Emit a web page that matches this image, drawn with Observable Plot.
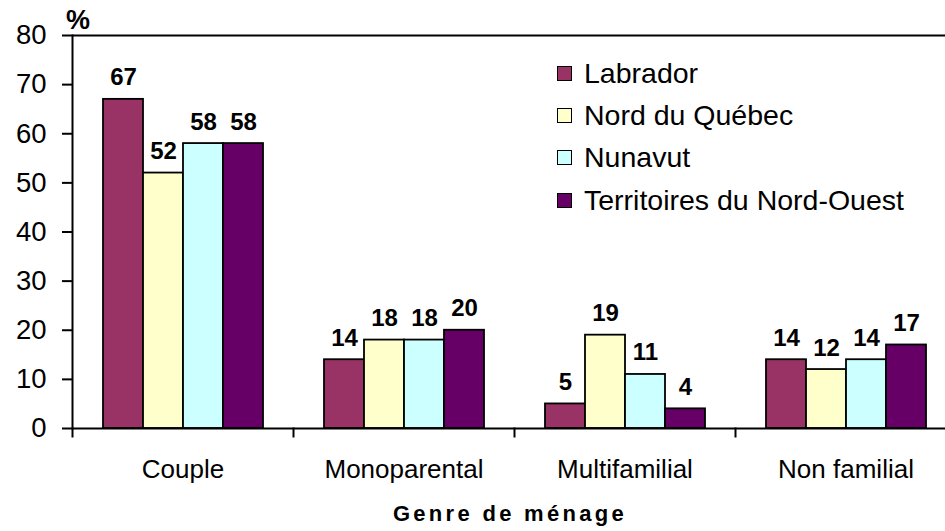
<!DOCTYPE html>
<html>
<head>
<meta charset="utf-8">
<script src="https://cdn.jsdelivr.net/npm/d3@7"></script>
<script src="https://cdn.jsdelivr.net/npm/@observablehq/plot@0.6"></script>
<style>
  html, body { margin: 0; padding: 0; background: #fff; }
  #wrap { position: relative; width: 945px; height: 531px; overflow: hidden; font-family: "Liberation Sans", Arial, sans-serif; color: #000; }
  #pct { position: absolute; left: 66px; top: 7px; font-size: 27px; font-weight: bold; line-height: 27px; }
  #xtitle { position: absolute; left: 0; width: 1020px; top: 503px; text-align: center; font-size: 22px; font-weight: bold; letter-spacing: 3.3px; line-height: 22px; }
  #legend { position: absolute; left: 557px; top: 52px; }
  .row { display: flex; align-items: center; height: 42.3px; font-size: 28.5px; }
  .sw { width: 13px; height: 13px; border: 1.6px solid #000; margin-right: 12px; }
</style>
</head>
<body>
<div id="wrap">
  <div id="chart"></div>
  <div id="pct">%</div>
  <div id="xtitle">Genre de ménage</div>
  <div id="legend"></div>
</div>
<script>
const categories = ["Couple", "Monoparental", "Multifamilial", "Non familial"];
const series = ["Labrador", "Nord du Québec", "Nunavut", "Territoires du Nord-Ouest"];
const colors = ["#993366", "#FFFFCC", "#CCFFFF", "#660066"];
const labrador = [67, 14, 5, 14];
const nordQuebec = [52, 18, 19, 12];
const nunavut = [58, 18, 11, 14];
const tno = [58, 20, 4, 17];
const yTicks = [0, 10, 20, 30, 40, 50, 60, 70, 80];

const valuesBySeries = [labrador, nordQuebec, nunavut, tno];
const data = [];
categories.forEach((c, i) => {
  series.forEach((s, j) => {
    data.push({cat: c, series: s, value: valuesBySeries[j][i]});
  });
});

const W = 945, H = 531, mTop = 35, mBottom = 103, mLeft = 72, mRight = -11;
const plotH = H - mTop - mBottom;

const chart = Plot.plot({
  width: W,
  height: H,
  marginLeft: mLeft,
  marginRight: mRight,
  marginTop: mTop,
  marginBottom: mBottom,
  style: {fontFamily: "Liberation Sans, Arial, sans-serif", fontSize: "26px", color: "#000", background: "#fff"},
  fx: {domain: categories, padding: 0, label: null, axis: null},
  x: {domain: series, paddingInner: 0, paddingOuter: 0.73, axis: null},
  y: {domain: [0, 80], axis: null},
  color: {domain: series, range: colors},
  marks: [
    Plot.barY(data, {fx: "cat", x: "series", y: "value", fill: "series", stroke: "#000", strokeWidth: 1.8, inset: 0}),
    Plot.text(data, {fx: "cat", x: "series", y: "value", text: d => String(d.value), lineAnchor: "bottom", dy: -14, fontWeight: "bold", fontSize: 24, fill: "#000"}),
    Plot.ruleY([0, 80], {stroke: "#000", strokeWidth: 2}),
    Plot.axisY({ticks: yTicks, tickSize: 10, tickPadding: 16, strokeWidth: 2, label: null, fontSize: 27.5, tickFormat: d => String(d)}),
    Plot.frame({anchor: "left", stroke: "#000", strokeWidth: 2, facetAnchor: "left"}),
    Plot.frame({anchor: "left", stroke: "#000", strokeWidth: 2, insetTop: plotH, insetBottom: -8}),
    Plot.axisFx({anchor: "bottom", tickSize: 0, tickPadding: 31, label: null, fontSize: 26})
  ]
});
document.getElementById("chart").appendChild(chart);

const legend = document.getElementById("legend");
series.forEach((s, j) => {
  const row = document.createElement("div");
  row.className = "row";
  const sw = document.createElement("div");
  sw.className = "sw";
  sw.style.background = colors[j];
  const t = document.createElement("span");
  t.textContent = s;
  row.appendChild(sw);
  row.appendChild(t);
  legend.appendChild(row);
});
</script>
</body>
</html>
